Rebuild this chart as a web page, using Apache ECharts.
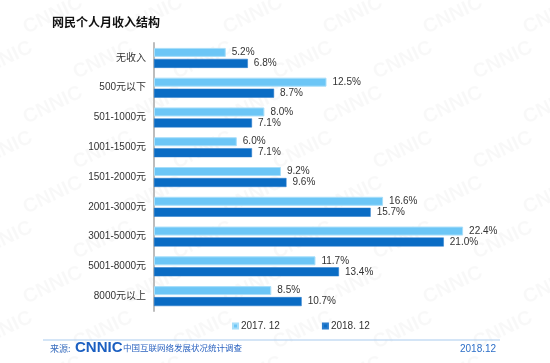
<!DOCTYPE html>
<html>
<head>
<meta charset="utf-8">
<script src="https://cdn.jsdelivr.net/npm/echarts@6/dist/echarts.min.js"></script>
<style>
html,body{margin:0;padding:0;background:#fff;}
#c{width:550px;height:363px;}
</style>
</head>
<body>
<div id="c"></div>
<script>
const categories = ['无收入','500元以下','501-1000元','1001-1500元','1501-2000元','2001-3000元','3001-5000元','5001-8000元','8000元以上'];
const series2017 = [5.2, 12.5, 8.0, 6.0, 9.2, 16.6, 22.4, 11.7, 8.5];
const series2018 = [6.8, 8.7, 7.1, 7.1, 9.6, 15.7, 21.0, 13.4, 10.7];
const seriesNames = ['2017. 12', '2018. 12'];

const chart = echarts.init(document.getElementById('c'));
const font = '"Liberation Sans", Arial, "Noto Sans CJK SC", sans-serif';
const cjk = '"Noto Sans CJK SC", sans-serif';

// watermark tiles
const wm = [];
for (let r = -1; r < 9; r++) {
  for (let c = -1; c < 7; c++) {
    wm.push({
      type: 'text',
      x: c * 100 + (r % 2) * 50 + 20,
      y: r * 45 + 20,
      rotation: Math.PI / 7,
      silent: true,
      z: -10,
      style: { text: 'CNNIC', fill: 'rgba(0,0,0,0.028)', font: 'bold 20px Arial, "Liberation Sans", sans-serif' }
    });
  }
}

chart.setOption({
  animation: false,
  backgroundColor: '#fff',
  textStyle: { fontFamily: font },
  title: {
    text: '网民个人月收入结构',
    left: 47, top: 11,
    textStyle: { fontSize: 12, fontWeight: 'bold', color: '#111', fontFamily: cjk }
  },
  legend: {
    data: seriesNames,
    bottom: 27, left: 227,
    icon: 'rect', itemWidth: 5, itemHeight: 5, itemGap: 42,
    textStyle: { fontSize: 10, color: '#333', padding: [0, 0, 0, -2], fontFamily: font }
  },
  grid: { left: 154, right: 51, top: 43, bottom: 52, containLabel: false },
  xAxis: { type: 'value', min: 0, max: 25, show: false },
  yAxis: {
    type: 'category', data: categories, inverse: true,
    axisLine: { show: true, lineStyle: { color: '#bdbdbd', width: 2 } },
    axisTick: { show: false },
    axisLabel: { fontSize: 10, color: '#333', margin: 8, fontFamily: font }
  },
  series: [
    {
      name: seriesNames[0], type: 'bar', data: series2017,
      barWidth: 9, barGap: '22%',
      itemStyle: { color: '#6CC6F6', borderColor: '#A8DEF9', borderWidth: 1 },
      label: { show: true, position: 'right', distance: 6, formatter: p => p.value.toFixed(1) + '%', fontSize: 10, color: '#333', fontFamily: font }
    },
    {
      name: seriesNames[1], type: 'bar', data: series2018,
      barWidth: 9,
      itemStyle: { color: '#0A6CC4', borderColor: '#2a7ccc', borderWidth: 0.5 },
      label: { show: true, position: 'right', distance: 6, formatter: p => p.value.toFixed(1) + '%', fontSize: 10, color: '#333', fontFamily: font }
    }
  ],
  graphic: wm.concat([
    { type: 'line', shape: { x1: 43, y1: 340, x2: 500, y2: 340 }, style: { stroke: '#a9cbee', lineWidth: 1 }, silent: true },
    { type: 'text', x: 50, y: 344, style: { text: '来源:', fill: '#3b6fbf', font: '9px ' + cjk } },
    { type: 'text', x: 75, y: 340, style: { text: 'CNNIC', fill: '#1b5fc1', font: 'bold 15px "Liberation Sans", Arial, sans-serif' } },
    { type: 'text', x: 123, y: 344, style: { text: '中国互联网络发展状况统计调查', fill: '#2d64c0', font: '8.5px ' + cjk } },
    { type: 'text', x: 460, y: 344, style: { text: '2018.12', fill: '#2d6fc8', font: '10px "Liberation Sans", Arial, sans-serif' } }
  ])
});
</script>
</body>
</html>
